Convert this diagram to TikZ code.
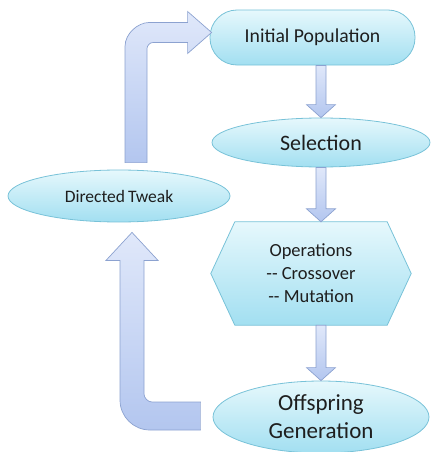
\documentclass[tikz,border=0pt]{standalone}
\usepackage{fontspec}
\setmainfont{Carlito}
\newfontfamily\plainfont{Carlito}
\usetikzlibrary{shapes.geometric,calc,backgrounds}
\definecolor{bordc}{HTML}{78C2D8}
\definecolor{topc}{HTML}{E6F8FC}
\definecolor{botc}{HTML}{A2DFF1}
\definecolor{txtc}{HTML}{1E1E1E}
\definecolor{arrb}{HTML}{8CA2D0}
\definecolor{arrt}{HTML}{E0E8FA}
\definecolor{arrd}{HTML}{B3C6EF}
\tikzset{
  bubble/.style={draw=bordc, line width=0.8pt, top color=topc, bottom color=botc, text=txtc, inner sep=0pt, align=center},
  blockarrow/.style={draw=arrb, line width=0.7pt, top color=arrt, bottom color=arrd},
}
\newcommand\blockdown[3]{%
  \coordinate (bdA) at (#3 |- #1.south);
  \coordinate (bdB) at (#3 |- #2.north);
  \draw[blockarrow] ($(bdA)+(-5,0)$) -- ($(bdB)+(-5,-13)$) -- ($(bdB)+(-14.5,-13)$) -- (bdB)
    -- ($(bdB)+(14.5,-13)$) -- ($(bdB)+(5,-13)$) -- ($(bdA)+(5,0)$) -- cycle;}
\begin{document}
\begin{tikzpicture}[x=1pt,y=-1pt]
\useasboundingbox (0,0) rectangle (431,452);
\node[bubble, rectangle, rounded corners=27pt, minimum width=205pt, minimum height=55pt,
  font=\fontsize{19.7}{24}\selectfont] (init) at (312.5,37.5) {Initial Population};
\node[bubble, ellipse, minimum width=218pt, minimum height=49pt,
  font=\fontsize{22}{26}\selectfont] (sel) at (321,142.5) {Selection};
\node[bubble, ellipse, minimum width=222pt, minimum height=52pt,
  font=\fontsize{17.5}{21}\selectfont] (tweak) at (119,196) {Directed\,Tweak};
\node[minimum width=152pt, minimum height=103pt, inner sep=0pt, align=center, text=txtc,
  font=\plainfont\fontsize{18.5}{23}\selectfont] (ops) at (311,273.5) {Operations\\-- Crossover\\-- Mutation};
\begin{scope}[on background layer]
\draw[draw=bordc, line width=0.8pt, top color=topc, bottom color=botc]
  (ops.north west) -- (ops.north east) -- ($(ops.east)+(24,0)$) -- (ops.south east)
  -- (ops.south west) -- ($(ops.west)+(-24,0)$) -- cycle;
\end{scope}
\node[bubble, ellipse, minimum width=216pt, minimum height=72pt,
  font=\fontsize{23}{28}\selectfont] (off) at (321,417) {Offspring\\Generation};
% straight block arrows
\blockdown{init}{sel}{sel.north}
\blockdown{sel}{ops}{sel.south}
\blockdown{ops}{off}{off.north}
% bent arrow: Directed Tweak -> Initial Population
\coordinate (ub) at ($(tweak.north)+(17,-7)$);
\coordinate (ut) at ($(init.west)+(2,-5)$);
\coordinate (uc) at (ub |- ut);
\draw[blockarrow] ($(ub)+(-11,0)$) -- ($(uc)+(-11,14)$)
  .. controls ($(uc)+(-11,0.75)$) and ($(uc)+(2.25,-10)$) .. ($(uc)+(13,-10)$)
  -- ($(ut)+(-24,-10)$) -- ($(ut)+(-24,-21)$) -- (ut) -- ($(ut)+(-24,21)$) -- ($(ut)+(-24,10)$)
  -- ($(uc)+(17,10)$) .. controls ($(uc)+(13.7,10)$) and ($(uc)+(11,13.3)$) .. ($(uc)+(11,16)$)
  -- ($(ub)+(11,0)$) -- cycle;
% bent arrow: Offspring Generation -> Directed Tweak
\coordinate (lb) at ($(off.west)+(-12,-1)$);
\coordinate (lt) at ($(tweak.south)+(13,10)$);
\coordinate (lc) at (lt |- lb);
\draw[blockarrow] ($(lb)+(0,-14)$) -- ($(lc)+(20,-14)$)
  .. controls ($(lc)+(15.6,-14)$) and ($(lc)+(12,-18.4)$) .. ($(lc)+(12,-22)$)
  -- ($(lt)+(12,28)$) -- ($(lt)+(26,28)$) -- (lt) -- ($(lt)+(-26,28)$) -- ($(lt)+(-12,28)$)
  -- ($(lc)+(-12,-16)$) .. controls ($(lc)+(-12,0.6)$) and ($(lc)+(1.4,14)$) .. ($(lc)+(18,14)$)
  -- ($(lb)+(0,14)$) -- cycle;
\end{tikzpicture}
\end{document}
